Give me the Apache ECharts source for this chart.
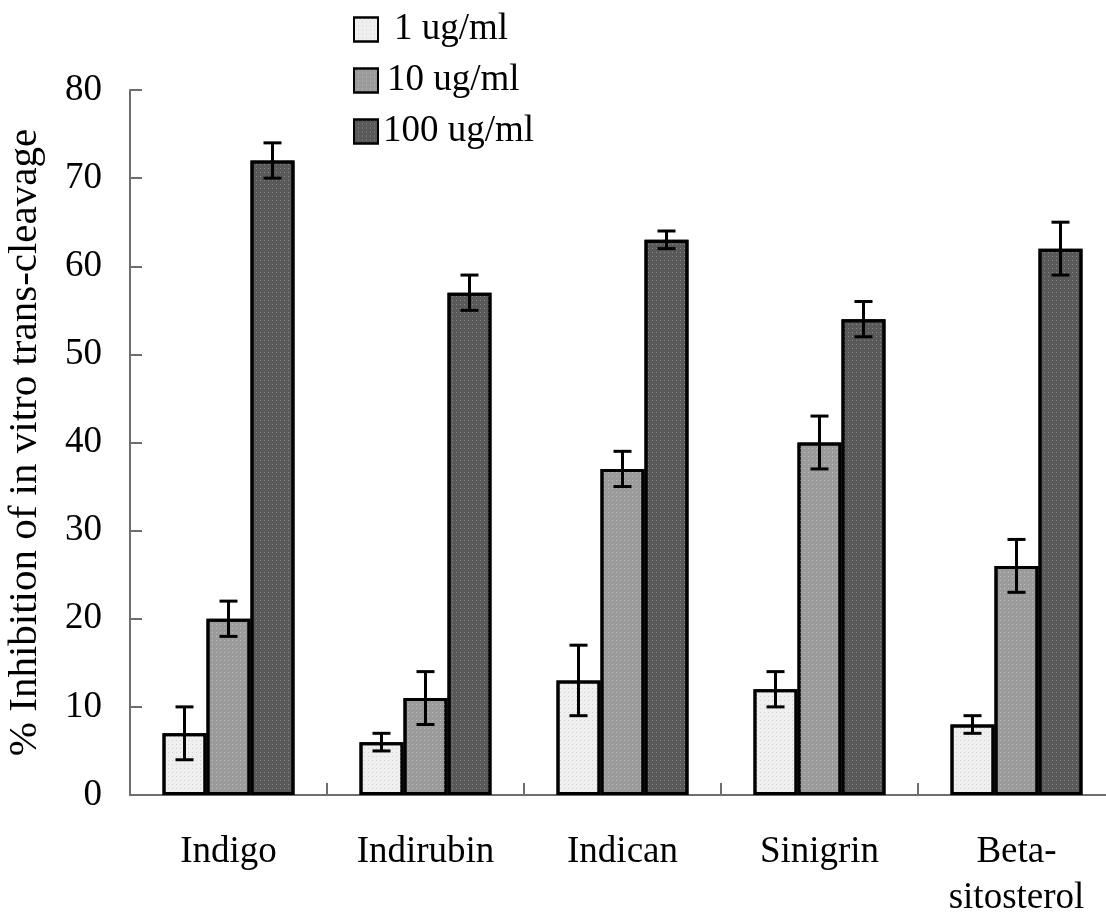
<!DOCTYPE html>
<html>
<head>
<meta charset="utf-8">
<title>Inhibition of in vitro trans-cleavage</title>
<script src="https://cdn.jsdelivr.net/npm/echarts@6/dist/echarts.min.js"></script>
<style>
  html, body { margin: 0; padding: 0; background: #fff; overflow: hidden; }
  #chart { width: 1106px; height: 915px; overflow: hidden; }
</style>
</head>
<body>
<div id="chart"></div>
<script>
// Compounds on the x axis
const categories = ['Indigo', 'Indirubin', 'Indican', 'Sinigrin', 'Beta-\nsitosterol'];

// Concentration groups
const seriesNames = ['1 ug/ml', '10 ug/ml', '100 ug/ml'];

// Mean % inhibition per compound
const values1 = [7, 6, 13, 12, 8];
const values10 = [20, 11, 37, 40, 26];
const values100 = [72, 57, 63, 54, 62];

// Error bar half-lengths
const err1 = [3, 1, 4, 2, 1];
const err10 = [2, 3, 2, 3, 3];
const err100 = [2, 2, 1, 2, 3];

// Y axis ticks
const yTicks = [0, 10, 20, 30, 40, 50, 60, 70, 80];

const FONT = '"Liberation Serif", "Times New Roman", serif';
const fills = ['#efefef', '#9b9b9b', '#595959'];
const dotColors = ['#d0d0d0', '#bdbdbd', '#8a8a8a'];
const CAT_GAP = 0.33;
const N_SERIES = 3;

const allValues = [values1, values10, values100];
const allErrors = [err1, err10, err100];

const chart = echarts.init(document.getElementById('chart'), null, { renderer: 'canvas', width: 1106, height: 915 });

const barSeries = allValues.map((vals, i) => ({
  name: seriesNames[i],
  type: 'bar',
  data: vals,
  barGap: '0%',
  barCategoryGap: (CAT_GAP * 100) + '%',
  itemStyle: {
    color: fills[i],
    borderColor: '#000',
    borderWidth: 3,
    decal: {
      symbol: 'rect',
      symbolSize: 1,
      color: dotColors[i],
      dashArrayX: [1, 3],
      dashArrayY: [1, 3],
      rotation: 0
    }
  },
  emphasis: { disabled: true },
  z: 2
}));

// Error bars, one custom series per concentration, offset to sit on its bar
const errorSeries = allValues.map((vals, i) => ({
  type: 'custom',
  name: seriesNames[i] + ' error',
  data: vals.map((v, k) => [k, v, allErrors[i][k]]),
  encode: { x: 0, y: 1 },
  z: 5,
  silent: true,
  renderItem: function (params, api) {
    const cat = api.value(0);
    const v = api.value(1);
    const e = api.value(2);
    const band = api.size([1, 0])[0];
    const barW = band * (1 - CAT_GAP) / N_SERIES;
    const offset = (i - (N_SERIES - 1) / 2) * barW;
    const hi = api.coord([cat, v + e]);
    const lo = api.coord([cat, v - e]);
    const x = hi[0] + offset;
    const cap = 9;
    const style = { stroke: '#000', lineWidth: 3, fill: null };
    return {
      type: 'group',
      children: [
        { type: 'line', shape: { x1: x, y1: hi[1], x2: x, y2: lo[1] }, style: style },
        { type: 'line', shape: { x1: x - cap, y1: hi[1], x2: x + cap, y2: hi[1] }, style: style },
        { type: 'line', shape: { x1: x - cap, y1: lo[1], x2: x + cap, y2: lo[1] }, style: style }
      ]
    };
  }
}));

const option = {
  backgroundColor: '#fff',
  animation: false,
  textStyle: { fontFamily: FONT, color: '#000' },
  legend: {
    data: seriesNames,
    orient: 'vertical',
    left: 348,
    top: 6,
    itemWidth: 24,
    itemHeight: 24,
    itemGap: 14,
    selectedMode: false,
    icon: 'rect',
    formatter: function (name) {
      const idx = seriesNames.indexOf(name);
      return '{p' + idx + '|' + name + '}';
    },
    textStyle: {
      fontFamily: FONT,
      fontSize: 37,
      color: '#000',
      rich: {
        p0: { fontFamily: FONT, fontSize: 37, color: '#000', padding: [0, 0, 0, 11] },
        p1: { fontFamily: FONT, fontSize: 37, color: '#000', padding: [0, 0, 0, 4] },
        p2: { fontFamily: FONT, fontSize: 37, color: '#000', padding: [0, 0, 0, 0] }
      }
    }
  },
  grid: {
    left: 130,
    top: 90,
    width: 985,
    height: 705,
    containLabel: false,
    outerBoundsMode: 'none'
  },
  xAxis: {
    type: 'category',
    data: categories,
    boundaryGap: true,
    axisLine: { show: true, lineStyle: { color: '#6e6e6e', width: 2 } },
    axisTick: {
      show: true,
      inside: true,
      length: 12,
      alignWithLabel: false,
      lineStyle: { color: '#6e6e6e', width: 2 }
    },
    axisLabel: {
      margin: 34,
      fontFamily: FONT,
      fontSize: 37,
      color: '#000',
      lineHeight: 46,
      interval: 0
    },
    splitLine: { show: false }
  },
  yAxis: {
    type: 'value',
    min: yTicks[0],
    max: yTicks[yTicks.length - 1],
    interval: yTicks[1] - yTicks[0],
    name: '% Inhibition of in vitro trans-cleavage',
    nameLocation: 'middle',
    nameGap: 84,
    nameTextStyle: { fontFamily: FONT, fontSize: 41, color: '#000' },
    axisLine: { show: true, lineStyle: { color: '#6e6e6e', width: 2 } },
    axisTick: { show: true, inside: true, length: 12, lineStyle: { color: '#6e6e6e', width: 2 } },
    axisLabel: { margin: 28, fontFamily: FONT, fontSize: 37, color: '#000' },
    splitLine: { show: false }
  },
  series: barSeries.concat(errorSeries)
};

chart.setOption(option);
</script>
</body>
</html>
